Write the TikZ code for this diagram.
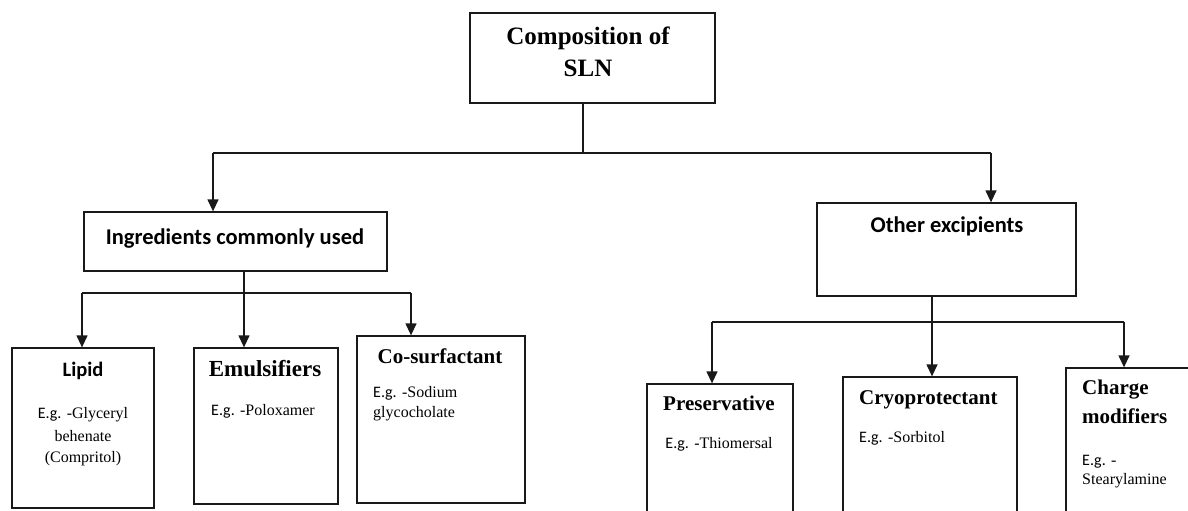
\documentclass[tikz,border=0pt]{standalone}
\usepackage{fontspec}
\setmainfont{Liberation Serif}
\newfontfamily\calfont{Carlito}
\usetikzlibrary{arrows.meta}
\newcommand{\egx}{{\calfont E.g.}}
\begin{document}
\begin{tikzpicture}[x=1pt,y=-1pt,
  box/.style={draw=black!90,line width=1.3pt,inner sep=0pt,rectangle},
  ln/.style={draw=black!90,line width=1.3pt},
  arr/.style={ln,-{Triangle[width=11pt,length=12pt]}},
  lbl/.style={inner sep=0pt,anchor=base west},
  clbl/.style={inner sep=0pt,anchor=base},
  ttl/.style={font=\fontsize{25}{31}\selectfont\bfseries},
  hd/.style={font=\fontsize{21}{26}\selectfont\bfseries},
  sm/.style={font=\fontsize{16}{19}\selectfont},
  cal/.style={font=\fontsize{22.5}{27}\selectfont\calfont\bfseries}]
\useasboundingbox (0,0) rectangle (1188,511);
\clip (0,0) rectangle (1188,511);

% boxes
\node[box,minimum width=245pt,minimum height=90pt] (top) at (592.5,58) {};
\node[box,minimum width=303pt,minimum height=59pt] (ing) at (235.5,241.5) {};
\node[box,minimum width=259pt,minimum height=93pt] (oth) at (946.5,249.5) {};
\node[box,minimum width=142pt,minimum height=160pt] (lip) at (83,428) {};
\node[box,minimum width=144pt,minimum height=156pt] (emu) at (266,426) {};
\node[box,minimum width=168pt,minimum height=167pt] (cos) at (441,419.5) {};
\node[box,minimum width=146pt,minimum height=146pt] (pre) at (720,457) {};
\node[box,minimum width=174pt,minimum height=153pt] (cry) at (930,453.5) {};
\node[box,minimum width=134pt,minimum height=162pt] (chg) at (1133,449) {};

% texts
\node[clbl,ttl] (t1) at (588,45) {Composition of};
\node[clbl,ttl] (t2) at (588,76) {SLN};
\node[clbl,cal] (t3) at (235,244) {Ingredients commonly used};
\node[clbl,cal] (t4) at (947,232) {Other excipients};

\node[clbl,font=\fontsize{20.5}{24}\selectfont\calfont\bfseries] (t5) at (83,376) {Lipid};
\node[clbl,sm] (t6) at (83,418) {\egx{} -Glyceryl};
\node[clbl,sm] (t7) at (83,441) {behenate};
\node[clbl,sm] (t8) at (83,462) {(Compritol)};

\node[clbl,font=\fontsize{23}{27}\selectfont\bfseries] (t9) at (265,376) {Emulsifiers};
\node[clbl,sm] (t10) at (263,415) {\egx{} -Poloxamer};

\node[clbl,hd] (t11) at (440,363) {Co-surfactant};
\node[lbl,sm] (t12) at (373,397) {\egx{} -Sodium};
\node[lbl,sm] (t13) at (373,417) {glycocholate};

\node[clbl,hd] (t14) at (719,410) {Preservative};
\node[clbl,sm] (t15) at (719,448) {\egx{} -Thiomersal};

\node[lbl,hd] (t16) at (859,404) {Cryoprotectant};
\node[lbl,sm] (t17) at (859,442) {\egx{} -Sorbitol};

\node[lbl,hd] (t18) at (1082,394) {Charge};
\node[lbl,hd] (t19) at (1082,423) {modifiers};
\node[lbl,sm] (t20) at (1082,465) {\egx{} -};
\node[lbl,sm] (t21) at (1082,484) {Stearylamine};

% connectors: top level
\coordinate (j0) at (583,153);
\coordinate (jl) at (213,153);
\coordinate (jr) at (991,153);
\draw[ln] (top.south -| j0) -- (j0);
\draw[ln] (jl) -- (jr);
\draw[arr] (jl) -- (jl |- ing.north);
\draw[arr] (jr) -- (jr |- oth.north);

% left subtree
\coordinate (k0) at (244,293);
\coordinate (kl) at (82,293);
\coordinate (kr) at (411,293);
\draw[ln] (kl) -- (kr);
\draw[arr] (ing.south -| k0) -- (k0 |- emu.north);
\draw[arr] (kl) -- (kl |- lip.north);
\draw[arr] (kr) -- (kr |- cos.north);

% right subtree
\coordinate (m0) at (932,322);
\coordinate (ml) at (712,322);
\coordinate (mr) at (1124,322);
\draw[ln] (ml) -- (mr);
\draw[arr] (oth.south -| m0) -- (m0 |- cry.north);
\draw[arr] (ml) -- (ml |- pre.north);
\draw[arr] (mr) -- (mr |- chg.north);
\end{tikzpicture}
\end{document}
